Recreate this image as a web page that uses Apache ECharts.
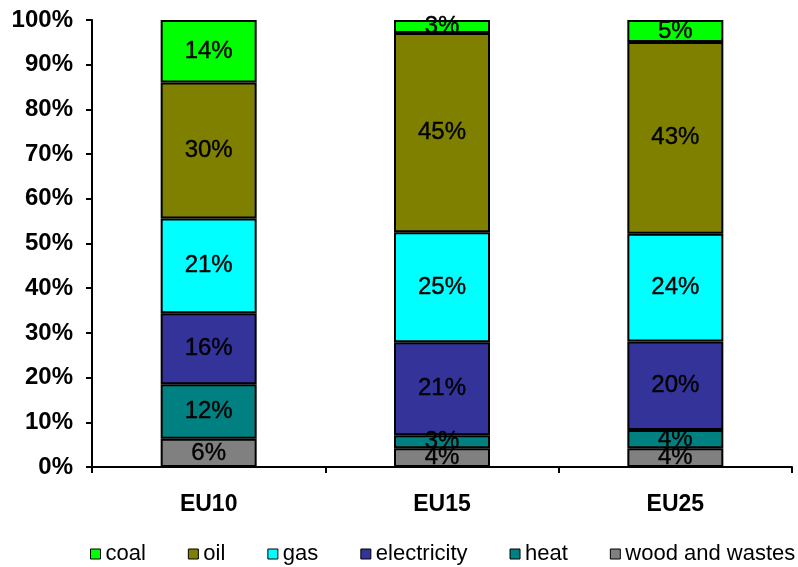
<!DOCTYPE html>
<html>
<head>
<meta charset="utf-8">
<script src="https://cdn.jsdelivr.net/npm/echarts@6/dist/echarts.min.js"></script>
<style>
  html, body { margin: 0; padding: 0; background: #ffffff; }
  #chart { width: 798px; height: 567px; }
</style>
</head>
<body>
<div id="chart"></div>
<script>
// Regions on the category axis
const regions = ['EU10', 'EU15', 'EU25'];

// Share of each energy source, percent (stacked bottom to top)
const woodAndWastes = [6.3, 4.2, 4.2];
const heat          = [12.2, 2.9, 4.1];
const electricity   = [15.9, 20.8, 19.8];
const gas           = [21.2, 24.6, 24.1];
const oil           = [30.4, 44.6, 42.9];
const coal          = [14.0, 2.9, 4.9];

const legendOrder = ['coal', 'oil', 'gas', 'electricity', 'heat', 'wood and wastes'];

const stackDefs = [
  { name: 'wood and wastes', data: woodAndWastes, color: '#808080' },
  { name: 'heat',            data: heat,          color: '#008080' },
  { name: 'electricity',     data: electricity,   color: '#333399' },
  { name: 'gas',             data: gas,           color: '#00FFFF' },
  { name: 'oil',             data: oil,           color: '#808000' },
  { name: 'coal',            data: coal,          color: '#00FF00' }
];

const FONT = 'Arial, "Liberation Sans", Helvetica, sans-serif';

const chart = echarts.init(document.getElementById('chart'), null, { renderer: 'canvas' });

chart.setOption({
  animation: false,
  backgroundColor: '#ffffff',
  grid: { left: 92, right: 6, top: 20, bottom: 100, containLabel: false },
  legend: {
    data: legendOrder,
    left: 85,
    top: 538,
    width: 760,
    itemWidth: 10,
    itemHeight: 10,
    itemGap: 42,
    icon: 'rect',
    itemStyle: { borderColor: '#000', borderWidth: 1 },
    textStyle: { fontFamily: FONT, fontSize: 22, color: '#000' }
  },
  xAxis: {
    type: 'category',
    data: regions,
    axisLine: { lineStyle: { color: '#000', width: 2 } },
    axisTick: { show: true, length: 6, lineStyle: { color: '#000', width: 2 } },
    axisLabel: { margin: 26, fontFamily: FONT, fontSize: 23, fontWeight: 'bold', color: '#000' }
  },
  yAxis: {
    type: 'value',
    min: 0,
    max: 100,
    interval: 10,
    splitLine: { show: false },
    axisLine: { show: true, lineStyle: { color: '#000', width: 2 } },
    axisTick: { show: true, length: 6, lineStyle: { color: '#000', width: 2 } },
    axisLabel: {
      margin: 19,
      formatter: '{value}%',
      fontFamily: FONT, fontSize: 24, fontWeight: 'bold', color: '#000'
    }
  },
  series: stackDefs.map(s => ({
    name: s.name,
    type: 'bar',
    stack: 'share',
    barWidth: 96,
    data: s.data,
    itemStyle: { color: s.color, borderColor: '#000', borderWidth: 2 },
    label: {
      show: true,
      position: 'inside',
      formatter: p => Math.round(p.value) + '%',
      fontFamily: FONT,
      fontSize: 24,
      color: '#000',
      textBorderColor: '#000',
      textBorderWidth: 0.4
    },
    emphasis: { disabled: true }
  }))
});
</script>
</body>
</html>
